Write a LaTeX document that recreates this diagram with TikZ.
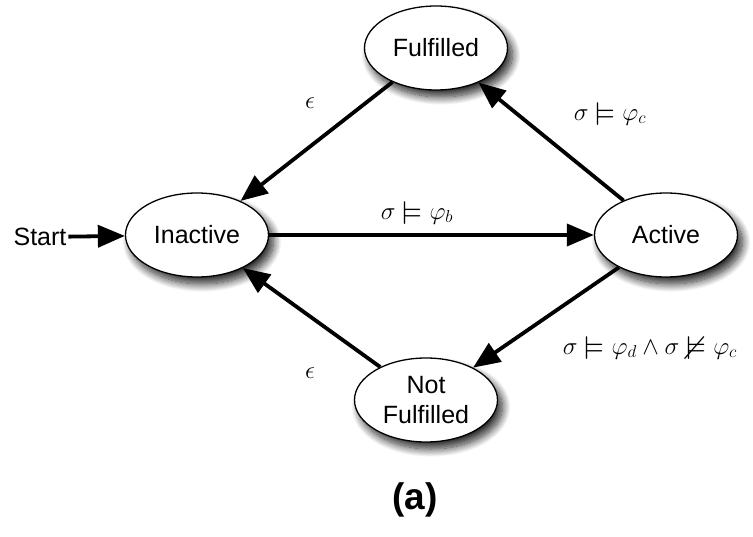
\documentclass[tikz,border=0pt]{standalone}
\usepackage{amsmath,amssymb,graphicx}
\usepackage{fontspec}
\setmainfont{Liberation Sans}
\usetikzlibrary{shapes.geometric,arrows.meta,shadows.blur}

% satisfaction relations, a little larger than the amssymb glyphs
\newcommand\satis{\mathrel{\vcenter{\hbox{\scalebox{1.22}{$\vDash$}}}}}
\newcommand\nsatis{\mathrel{\vcenter{\hbox{\scalebox{1.22}{$\nvDash$}}}}}

\tikzset{
  state/.style={ellipse, draw, line width=1.3pt, fill=white,
    minimum width=143pt, minimum height=84pt, inner sep=0pt,
    align=center, font=\fontsize{25}{30}\selectfont,
    blur shadow={shadow xshift=5pt, shadow yshift=-7pt,
      shadow blur radius=8pt, shadow blur steps=14, shadow opacity=85}},
  trans/.style={line width=3.8pt, -{Triangle[length=27pt,width=22pt]}},
  lbl/.style={font=\fontsize{27}{32}\selectfont, inner sep=0pt},
}

\begin{document}
\begin{tikzpicture}[x=1pt, y=-1pt]
  \useasboundingbox (0,0) rectangle (753,537);

  % states
  \node[state] (ful)   at (436,48)  {Fulfilled};
  \node[state] (inact) at (197,235) {Inactive};
  \node[state] (act)   at (666,235) {Active};
  \node[state] (nful)  at (426,400) {Not\\Fulfilled};

  % initial marker
  \node[font=\fontsize{25}{30}\selectfont, inner sep=0pt, outer sep=2pt]
    (start) at (40,237) {Start};

  % transitions
  \draw[trans] (start) -- (inact);
  \draw[trans] (ful) -- (inact);
  \draw[trans] (inact) -- (act);
  \draw[trans] (act) -- (ful);
  \draw[trans] (act) -- (nful);
  \draw[trans] (nful) -- (inact);

  % transition guards
  \node[lbl] (e1) at (310,103) {$\epsilon$};
  \node[lbl] (gc) at (610,114) {$\sigma \satis \varphi_c$};
  \node[lbl] (gb) at (417,213) {$\sigma \satis \varphi_b$};
  \node[lbl] (gd) at (650,348) {$\sigma \satis \varphi_d \wedge \sigma \nsatis \varphi_c$};
  \node[lbl] (e2) at (310,373) {$\epsilon$};

  % caption
  \node[font=\bfseries\fontsize{37}{42}\selectfont, inner sep=0pt] (cap) at (415,500) {(a)};
\end{tikzpicture}
\end{document}
